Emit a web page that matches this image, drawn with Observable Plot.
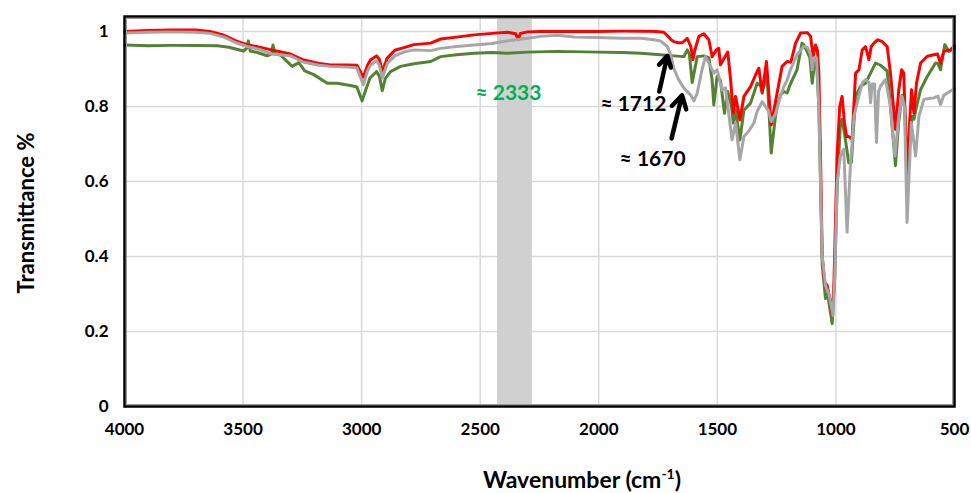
<!DOCTYPE html>
<html><head><meta charset="utf-8">
<script src="https://cdn.jsdelivr.net/npm/d3@7"></script>
<script src="https://cdn.jsdelivr.net/npm/@observablehq/plot@0.6"></script>
<style>body{margin:0;background:#fff}</style>
</head><body><div id="chart"></div><script>
// ---- data ----
const xTicks = [4000, 3500, 3000, 2500, 2000, 1500, 1000, 500];
const yTicks = [0, 0.2, 0.4, 0.6, 0.8, 1];
const yTickLabels = ["0", "0.2", "0.4", "0.6", "0.8", "1"];

const redWave = [4000,3900,3800,3700,3640,3580,3530,3483,3430,3380,3300,3244,3180,3131,3060,3020,2993,2975,2963,2937,2925,2913,2900,2892,2860,2822,2780,2709,2667,2600,2526,2450,2386,2350,2340,2330,2300,2245,2100,2000,1900,1823,1760,1726,1712,1695,1684,1665,1648,1627,1612,1603,1595,1578,1557,1536,1522,1504,1494,1487,1470,1456,1444,1433,1423,1405,1388,1360,1339,1325,1311,1293,1273,1248,1227,1206,1190,1170,1149,1121,1107,1096,1086,1078,1072,1065,1058,1048,1037,1026,1016,1009,995,984,974,964,955,946,932,917,903,889,875,861,851,840,823,805,784,770,749,735,723,714,700,690,681,671,660,643,615,587,572,559,545,517,500];
const redT = [1.0,1.003,1.004,1.004,1.0,0.99,0.975,0.965,0.958,0.951,0.94,0.924,0.915,0.911,0.911,0.91,0.878,0.91,0.924,0.935,0.925,0.893,0.915,0.929,0.95,0.957,0.965,0.969,0.98,0.985,0.991,0.995,0.998,0.994,0.978,0.995,0.999,1.0,1.0,1.0,1.001,1.001,1.0,0.998,0.99,0.978,0.973,0.97,0.97,0.982,0.96,0.925,0.95,0.987,0.994,0.978,0.933,0.951,0.955,0.911,0.93,0.945,0.87,0.782,0.827,0.764,0.827,0.853,0.884,0.902,0.836,0.92,0.751,0.836,0.907,0.92,0.918,0.969,0.996,0.997,0.987,0.933,0.964,0.95,0.889,0.668,0.403,0.332,0.323,0.288,0.248,0.314,0.668,0.8,0.827,0.757,0.72,0.72,0.712,0.889,0.898,0.951,0.96,0.925,0.96,0.969,0.978,0.973,0.96,0.889,0.739,0.845,0.898,0.89,0.6,0.75,0.845,0.783,0.863,0.916,0.934,0.938,0.94,0.916,0.947,0.951,0.962];

const grayWave = [4000,3900,3800,3700,3640,3580,3530,3483,3430,3380,3300,3244,3180,3131,3060,3020,2993,2975,2963,2937,2925,2913,2900,2892,2860,2822,2780,2709,2667,2600,2526,2450,2386,2300,2245,2175,2100,2000,1900,1823,1768,1740,1711,1695,1684,1663,1641,1613,1599,1585,1564,1550,1529,1515,1501,1480,1466,1438,1423,1405,1388,1367,1346,1332,1311,1297,1285,1273,1255,1234,1220,1206,1192,1164,1136,1121,1107,1100,1093,1082,1072,1065,1058,1044,1030,1012,1005,995,981,967,953,939,924,910,889,875,861,854,847,837,829,820,812,791,770,751,735,721,711,700,682,664,650,629,600,587,570,559,545,520,500];
const grayT = [0.996,0.998,0.999,0.998,0.995,0.985,0.97,0.96,0.952,0.94,0.935,0.918,0.91,0.907,0.905,0.903,0.858,0.895,0.91,0.922,0.91,0.876,0.9,0.915,0.935,0.945,0.951,0.949,0.955,0.96,0.964,0.968,0.975,0.982,0.987,0.99,0.985,0.984,0.982,0.982,0.978,0.975,0.96,0.935,0.902,0.871,0.849,0.831,0.815,0.836,0.9,0.933,0.907,0.889,0.898,0.844,0.85,0.711,0.756,0.658,0.72,0.735,0.756,0.787,0.813,0.8,0.79,0.76,0.78,0.827,0.853,0.87,0.898,0.938,0.96,0.958,0.94,0.898,0.93,0.93,0.8,0.6,0.4,0.323,0.3,0.243,0.35,0.597,0.668,0.686,0.465,0.642,0.774,0.81,0.863,0.872,0.865,0.81,0.86,0.86,0.704,0.84,0.854,0.872,0.8,0.668,0.774,0.827,0.8,0.491,0.757,0.668,0.774,0.819,0.822,0.823,0.828,0.805,0.83,0.84,0.848];

const greenWave = [4000,3900,3800,3700,3609,3560,3498,3485,3478,3470,3440,3398,3380,3374,3365,3342,3293,3265,3240,3202,3145,3103,3047,3020,2998,2985,2965,2937,2925,2913,2900,2878,2836,2780,2709,2667,2600,2526,2450,2386,2300,2175,2000,1900,1823,1740,1684,1641,1627,1618,1606,1595,1585,1557,1536,1522,1515,1501,1487,1470,1456,1440,1433,1423,1405,1388,1360,1332,1318,1311,1290,1273,1255,1248,1234,1220,1206,1192,1164,1143,1136,1122,1110,1100,1090,1080,1072,1065,1058,1044,1035,1016,1005,995,981,974,962,946,935,917,896,875,854,833,812,784,770,749,735,721,710,700,690,678,671,660,643,615,580,570,559,541,524,500];
const greenT = [0.964,0.962,0.963,0.963,0.962,0.958,0.948,0.955,0.975,0.948,0.944,0.935,0.94,0.964,0.94,0.937,0.907,0.917,0.895,0.885,0.862,0.862,0.856,0.852,0.815,0.84,0.876,0.893,0.88,0.842,0.875,0.893,0.907,0.914,0.92,0.933,0.938,0.942,0.944,0.942,0.945,0.947,0.945,0.944,0.942,0.938,0.935,0.933,0.951,0.94,0.864,0.9,0.933,0.935,0.93,0.87,0.804,0.88,0.87,0.782,0.84,0.8,0.756,0.79,0.711,0.79,0.809,0.862,0.855,0.84,0.88,0.676,0.773,0.8,0.83,0.84,0.836,0.86,0.898,0.969,0.965,0.947,0.93,0.862,0.92,0.9,0.8,0.6,0.38,0.288,0.3,0.221,0.35,0.58,0.757,0.766,0.72,0.65,0.65,0.827,0.854,0.862,0.889,0.916,0.91,0.895,0.8,0.642,0.76,0.83,0.8,0.66,0.72,0.774,0.766,0.8,0.845,0.88,0.916,0.915,0.898,0.965,0.947,0.957];

// highlighted band and annotations (data coordinates)
const bandFrom = 2427, bandTo = 2280;
const noteText = ["≈ 2333", "≈ 1712", "≈ 1670"];
const noteWave = [2381, 1854, 1773];
const noteT = [0.835, 0.805, 0.66];
const noteColor = ["#00b050", "#000000", "#000000"];
const arrowWave1 = [1745, 1693];
const arrowT1 = [0.84, 0.715];
const arrowWave2 = [1711, 1649];
const arrowT2 = [0.935, 0.83];

// ---- build tables ----
const toRows = (w, t, s) => w.map((d, i) => ({wave: d, t: t[i], s}));
const green = toRows(greenWave, greenT, "green");
const red = toRows(redWave, redT, "red");
const gray = toRows(grayWave, grayT, "gray");
const notes = noteText.map((d, i) => ({text: d, wave: noteWave[i], t: noteT[i], color: noteColor[i]}));
const arrows = arrowWave1.map((d, i) => ({x1: d, y1: arrowT1[i], x2: arrowWave2[i], y2: arrowT2[i]}));

const font = "Lato, 'Open Sans', sans-serif";
const plot = Plot.plot({
  width: 971, height: 493,
  marginLeft: 124, marginRight: 17, marginTop: 16, marginBottom: 87,
  style: {fontFamily: font, fontSize: "17px", fontWeight: "bold", color: "#000", background: "#fff"},
  x: {domain: [4000, 500], ticks: xTicks, tickSize: 0, tickPadding: 16, label: null, tickFormat: d => String(d)},
  y: {domain: [0, 1.04], ticks: yTicks, tickSize: 0, tickPadding: 16, label: null, tickFormat: d => yTickLabels[yTicks.indexOf(d)]},
  marks: [
    Plot.gridX(xTicks, {stroke: "#d9d9d9", strokeOpacity: 1, strokeWidth: 1.5}),
    Plot.gridY(yTicks, {stroke: "#d9d9d9", strokeOpacity: 1, strokeWidth: 1.5}),
    Plot.rect([{x1: bandFrom, x2: bandTo}], {x1: "x1", x2: "x2", y1: 0, y2: 1.04, fill: "#d0d0d0"}),
    Plot.line(green, {x: "wave", y: "t", stroke: "#548235", strokeWidth: 3, curve: "linear"}),
    Plot.line(red, {x: "wave", y: "t", stroke: "#ff0000", strokeWidth: 3, curve: "linear"}),
    Plot.line(gray, {x: "wave", y: "t", stroke: "#a6a6a6", strokeWidth: 3, curve: "linear"}),
    Plot.text(notes, {x: "wave", y: "t", text: "text", fill: "color", fontSize: 21, fontWeight: "bold"}),
    Plot.arrow(arrows, {x1: "x1", y1: "y1", x2: "x2", y2: "y2", stroke: "#000", strokeWidth: 4.5, headLength: 12, bend: 0}),
    Plot.frame({stroke: "#000", strokeWidth: 2.5}),
    Plot.frame({stroke: "#9a9a9a", strokeWidth: 1, inset: 2})
  ]
});
document.getElementById("chart").appendChild(plot);

// axis titles (with a superscript)
const svg = d3.select(plot);
svg.append("text")
  .attr("transform", "translate(28,213) rotate(-90)")
  .attr("text-anchor", "middle").attr("dominant-baseline", "middle")
  .style("font-family", font).style("font-size", "22px").style("font-weight", "bold")
  .text("Transmittance %");
const xl = svg.append("text")
  .attr("x", 582).attr("y", 488)
  .attr("text-anchor", "middle")
  .style("font-family", font).style("font-size", "23px").style("font-weight", "bold");
xl.append("tspan").text("Wavenumber (cm");
xl.append("tspan").attr("dy", -9).style("font-size", "14px").text("-1");
xl.append("tspan").attr("dy", 9).text(")");
</script></body></html>
